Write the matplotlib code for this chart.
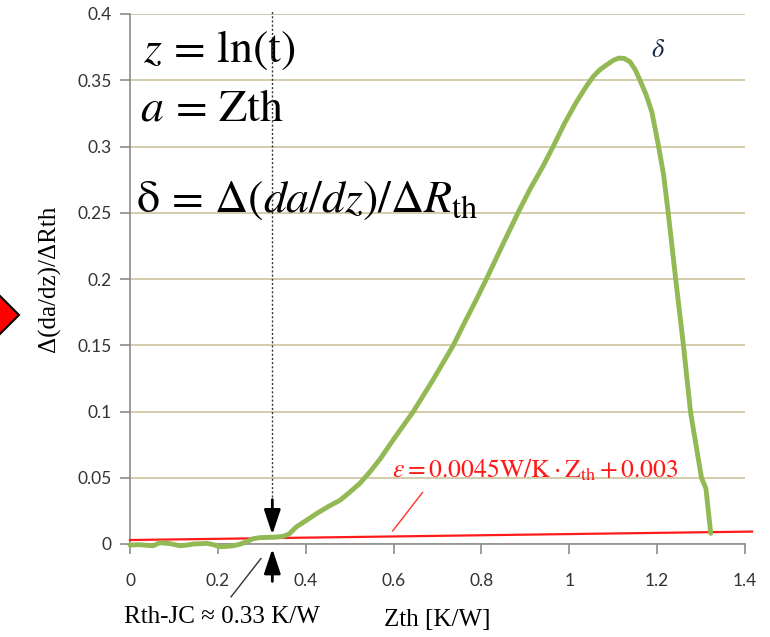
import matplotlib
matplotlib.use("Agg")
import matplotlib.pyplot as plt
from matplotlib.patches import Polygon, FancyArrowPatch
from matplotlib.lines import Line2D

plt.rcParams['mathtext.fontset'] = 'stix'

# ---- data ----
zth = [0.0, 0.02, 0.04, 0.053, 0.068, 0.09, 0.114, 0.13, 0.144, 0.16, 0.175, 0.19,
       0.205, 0.22, 0.235, 0.25, 0.266, 0.28, 0.296, 0.31, 0.33, 0.349, 0.362, 0.379,
       0.40, 0.425, 0.45, 0.478, 0.50, 0.524, 0.545, 0.569, 0.60, 0.645, 0.69, 0.736,
       0.763, 0.79, 0.812, 0.85, 0.884, 0.911, 0.94, 0.964, 0.99, 1.017, 1.04, 1.055,
       1.07, 1.085, 1.10, 1.112, 1.125, 1.138, 1.15, 1.161, 1.175, 1.188, 1.203, 1.215,
       1.225, 1.242, 1.26, 1.276, 1.301, 1.311, 1.322]
delta = [-0.0008, -0.0005, -0.0010, -0.0013, 0.0010, 0.0003, -0.0013, -0.0008, 0.0, 0.0002,
         0.0005, -0.0005, -0.0020, -0.0018, -0.0013, -0.0002, 0.0018, 0.0040, 0.0048, 0.0050,
         0.0052, 0.0058, 0.0075, 0.0130, 0.0175, 0.0230, 0.0280, 0.0330, 0.0390, 0.0460,
         0.0540, 0.0640, 0.0790, 0.1000, 0.1240, 0.1500, 0.1680, 0.1855, 0.2005, 0.2270,
         0.2505, 0.2680, 0.2850, 0.3005, 0.3180, 0.3340, 0.3460, 0.3530, 0.3580, 0.3616,
         0.3650, 0.3667, 0.3665, 0.3640, 0.3580, 0.3500, 0.3390, 0.3260, 0.3005, 0.2780,
         0.2505, 0.2005, 0.1495, 0.0995, 0.0498, 0.0420, 0.0080]
eps_x = [0.0, 1.416]
eps_slope = 0.0045
eps_offset = 0.003
rth_jc = 0.324
xticks = [0, 0.2, 0.4, 0.6, 0.8, 1.0, 1.2, 1.4]
xticklabels = ['0', '0.2', '0.4', '0.6', '0.8', '1', '1.2', '1.4']
yticks = [0, 0.05, 0.1, 0.15, 0.2, 0.25, 0.3, 0.35, 0.4]
yticklabels = ['0', '0.05', '0.1', '0.15', '0.2', '0.25', '0.3', '0.35', '0.4']

W, H = 770, 637
fig = plt.figure(figsize=(W / 100, H / 100), dpi=100)
fig.patch.set_facecolor('white')
ax = fig.add_axes([130 / W, 1 - 544 / H, 615 / W, 530 / H])

serif = 'Liberation Serif'
tickfont = 'Lato'

ax.set_xlim(0, 1.4)
ax.set_ylim(0, 0.4)
for s in ['top', 'right']:
    ax.spines[s].set_visible(False)
for s in ['left', 'bottom']:
    ax.spines[s].set_color('#8c8c8c')
    ax.spines[s].set_linewidth(1.2)

ax.set_yticks(yticks)
ax.set_yticklabels(yticklabels, fontname=tickfont, fontsize=12.5, color='#333333')
ax.set_xticks(xticks)
ax.set_xticklabels(xticklabels, fontname=tickfont, fontsize=12.5, color='#333333')
ax.tick_params(axis='y', direction='out', length=7, width=1.2, color='#8c8c8c', pad=6)
ax.tick_params(axis='x', direction='out', length=7, width=1.2, color='#8c8c8c', pad=14)
ax.grid(axis='y', color='#cfc8a6', linewidth=1.3)
ax.set_axisbelow(True)

ax.set_ylabel('Δ(da/dz)/ΔRth', family=serif, fontsize=18, labelpad=12)
ax.set_xlabel('Zth [K/W]', family=serif, fontsize=18, labelpad=14)

# epsilon line
eps_y = [eps_slope * x + eps_offset for x in eps_x]
ax.plot(eps_x, eps_y, color='#ff1a1a', lw=1.6, clip_on=False, zorder=3)

# delta curve
ax.plot(zth, delta, color='#93b955', lw=3.5, clip_on=False, zorder=4,
        solid_capstyle='round', solid_joinstyle='round')

# vertical dotted line at Rth-JC
ax.plot([rth_jc, rth_jc], [0.0356, 0.403], color='#333333', lw=1.0, ls=(0, (1.5, 1.5)),
        clip_on=False, zorder=5)

# arrows
arrow_style = '-|>,head_length=0.75,head_width=0.25'
a1 = FancyArrowPatch((rth_jc, 0.0356), (rth_jc, 0.0050), arrowstyle=arrow_style,
                     mutation_scale=20, color='black', lw=2, clip_on=False, zorder=6)
a2 = FancyArrowPatch((rth_jc, -0.0303), (rth_jc, -0.0015), arrowstyle=arrow_style,
                     mutation_scale=20, color='black', lw=2, clip_on=False, zorder=6)
ax.add_patch(a1)
ax.add_patch(a2)

# leader line for Rth-JC
ax.add_line(Line2D([0.230, 0.298], [-0.0399, -0.0110], color='#333333', lw=1.0, clip_on=False))
fig.text(222 / W, 1 - 617 / H, 'Rth-JC ≈ 0.33 K/W', family=serif, fontsize=18,
         ha='center', va='center')

# red annotation
ax.add_line(Line2D([0.598, 0.666], [0.00985, 0.0389], color='#ff3030', lw=1.0, clip_on=False))
ax.text(0.5975, 0.050, r'$\varepsilon = \mathrm{0.0045W/K}\cdot\mathrm{Z_{th}} + 0.003$',
        color='#ff1a1a', fontsize=18.5, ha='left', va='baseline')

# delta label
ax.text(1.203, 0.3727, r'$\delta$', color='#1a2a4a', fontsize=19, ha='center', va='center')

# formulas
ax.text(0.0296, 0.3636, r'$z\, = \,\mathrm{ln(t)}$', fontsize=33, ha='left', va='baseline')
ax.text(0.0228, 0.3197, r'$a\, = \,\mathrm{Zth}$', fontsize=33, ha='left', va='baseline')
ax.text(0.0137, 0.2508, r'$\mathrm{\delta}\, = \,\Delta(da/dz)/\Delta R_{\mathrm{th}}$',
        fontsize=33, ha='left', va='baseline')

# red marker on the left edge
tri = Polygon([(-12 / W, 1 - 284 / H), (19 / W, 1 - 315 / H), (-12 / W, 1 - 346 / H)],
              closed=True, facecolor='#ff0000', edgecolor='black', lw=1.5,
              transform=fig.transFigure, clip_on=False)
fig.patches.append(tri)

fig.savefig('out.png', dpi=100)
